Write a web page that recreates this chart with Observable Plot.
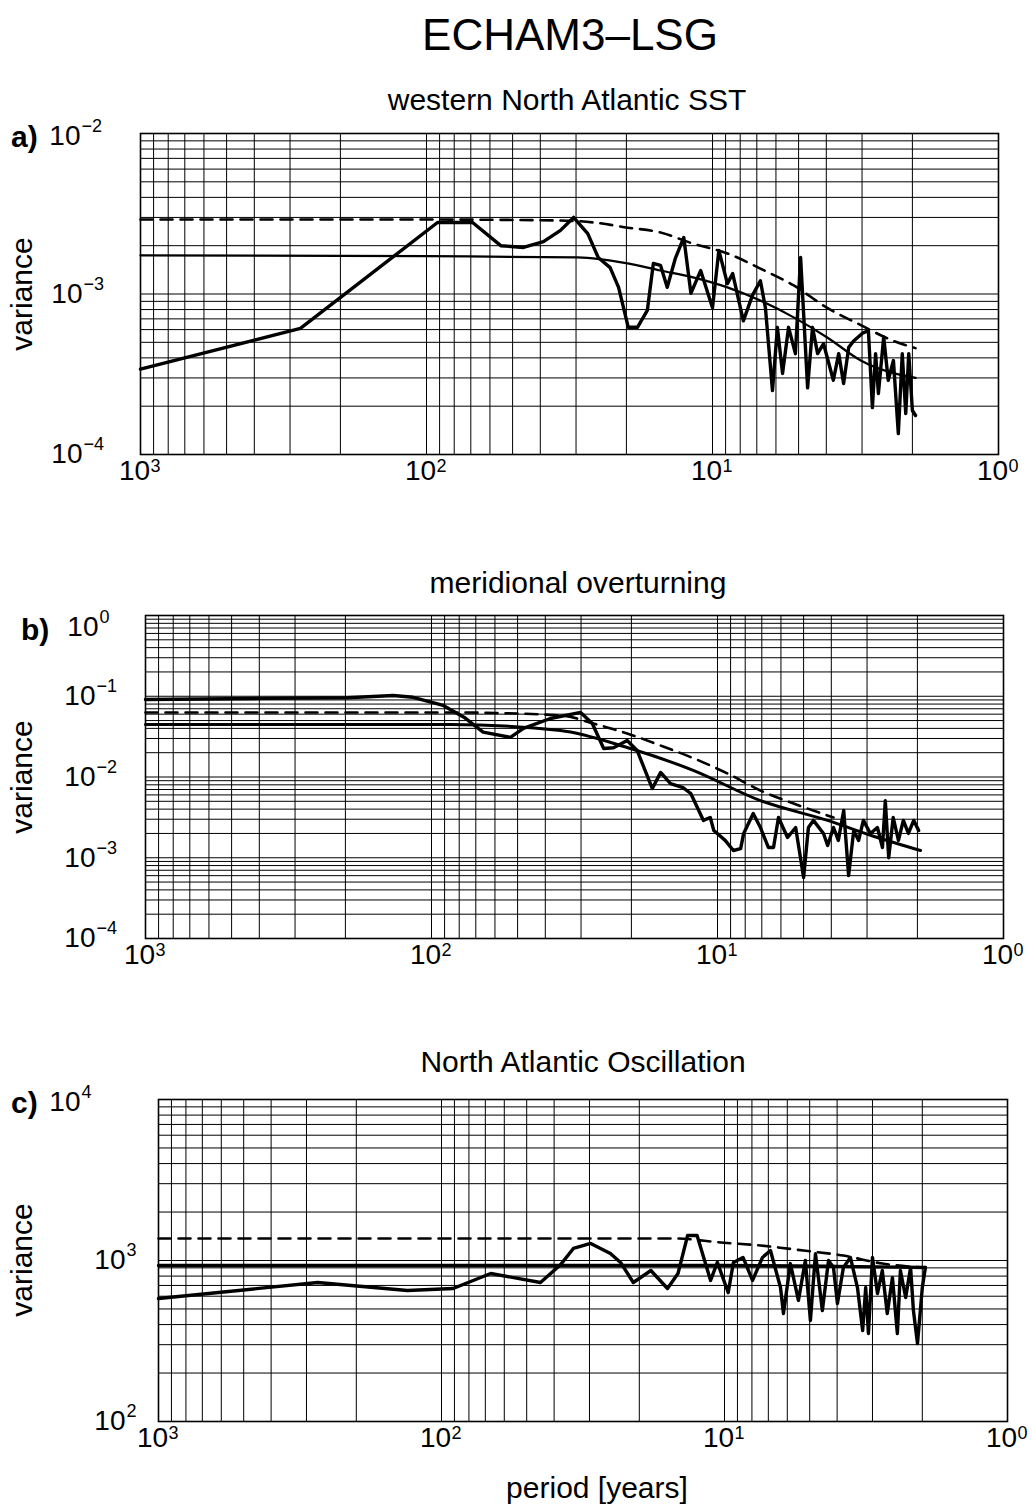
<!DOCTYPE html>
<html><head><meta charset="utf-8">
<script src="https://cdn.jsdelivr.net/npm/d3@7"></script>
<script src="https://cdn.jsdelivr.net/npm/@observablehq/plot@0.6"></script>
<style>
body{margin:0;background:#fff;}
#page{position:relative;width:1032px;height:1506px;background:#fff;font-family:"Liberation Sans",Arial,Helvetica,sans-serif;color:#000;overflow:hidden;}
.t{position:absolute;white-space:nowrap;line-height:1;}
#page svg{position:absolute;left:0;}
</style></head><body><div id="page"></div>
<script>
// ---------- data ----------
const xMajor = [1000, 100, 10, 1];

// a) western North Atlantic SST
const sstPeriod   = [1000, 276, 91.5, 69, 55, 45.8, 39, 34, 30.6, 27.3, 25.1, 22.8, 21.3, 19.7, 18.3, 16.9, 16.1, 15.2, 14.4, 13.5, 12.6, 11.9, 11.0, 10.0, 9.5, 8.87, 8.5, 7.8, 7.25, 6.8, 6.53, 6.17, 5.93, 5.69, 5.42, 5.13, 4.92, 4.65, 4.47, 4.29, 4.09, 3.78, 3.62, 3.48, 3.34, 3.21, 2.99, 2.85, 2.76, 2.69, 2.63, 2.52, 2.43, 2.33, 2.24, 2.17, 2.11, 2.06, 2.0, 1.95];
const sstSpectrum = [3.4e-4, 6.1e-4, 2.79e-3, 2.79e-3, 2.0e-3, 1.95e-3, 2.12e-3, 2.49e-3, 3.0e-3, 2.38e-3, 1.69e-3, 1.46e-3, 1.10e-3, 6.2e-4, 6.2e-4, 7.9e-4, 1.55e-3, 1.51e-3, 1.10e-3, 1.66e-3, 2.25e-3, 1.01e-3, 1.40e-3, 8.2e-4, 1.87e-3, 1.16e-3, 1.34e-3, 6.8e-4, 9.8e-4, 1.21e-3, 8.2e-4, 2.5e-4, 6.2e-4, 3.2e-4, 6.2e-4, 4.25e-4, 1.69e-3, 2.6e-4, 6.2e-4, 4.25e-4, 4.9e-4, 2.9e-4, 4.25e-4, 2.77e-4, 4.65e-4, 5.1e-4, 5.7e-4, 5.9e-4, 1.96e-4, 4.25e-4, 2.4e-4, 5.4e-4, 2.9e-4, 3.85e-4, 1.35e-4, 4.25e-4, 1.8e-4, 4.25e-4, 1.88e-4, 1.75e-4];
const sstFitPeriod = [1000, 100, 29.6, 19.8, 15.2, 11.7, 8.87, 6.8, 5.2, 3.97, 3.03, 1.95];
const sstFit       = [1.74e-3, 1.72e-3, 1.69e-3, 1.55e-3, 1.40e-3, 1.27e-3, 1.10e-3, 9.1e-4, 7.15e-4, 5.36e-4, 3.85e-4, 3.0e-4];
const sstBoundPeriod = [1000, 100, 34, 26, 19.8, 15.2, 11.7, 8.87, 6.8, 5.2, 3.97, 3.03, 2.33, 1.95];
const sstBound       = [2.91e-3, 2.91e-3, 2.87e-3, 2.79e-3, 2.59e-3, 2.42e-3, 2.06e-3, 1.79e-3, 1.44e-3, 1.13e-3, 8.2e-4, 6.4e-4, 5.1e-4, 4.6e-4];

// b) meridional overturning
const mocPeriod   = [1000, 386, 197, 136, 116, 91, 77, 66, 53, 47.7, 38.4, 30.1, 27.4, 25, 23.1, 20.7, 19.1, 16.9, 15.8, 14.6, 13.2, 12.4, 11.2, 10.6, 10.3, 9.4, 8.8, 8.3, 8.1, 7.5, 7.08, 6.64, 6.37, 6.12, 5.69, 5.33, 5.0, 4.81, 4.62, 4.26, 4.12, 3.93, 3.78, 3.62, 3.48, 3.34, 3.21, 3.09, 2.92, 2.76, 2.65, 2.59, 2.52, 2.43, 2.33, 2.24, 2.15, 2.06, 1.98];
const mocSpectrum = [0.091, 0.094, 0.096, 0.102, 0.097, 0.077, 0.055, 0.036, 0.031, 0.040, 0.053, 0.063, 0.046, 0.0225, 0.023, 0.0283, 0.0213, 0.0072, 0.0114, 0.0083, 0.0074, 0.00625, 0.0029, 0.00315, 0.00217, 0.00164, 0.00123, 0.0013, 0.002, 0.00353, 0.00237, 0.00134, 0.00134, 0.00315, 0.00178, 0.00237, 0.00057, 0.00237, 0.0029, 0.002, 0.00142, 0.00237, 0.00164, 0.00385, 0.0006, 0.00217, 0.00164, 0.0029, 0.002, 0.00237, 0.00134, 0.0051, 0.001, 0.00315, 0.00164, 0.0029, 0.002, 0.0029, 0.00217];
const mocFitPeriod = [1000, 86, 35.4, 20.7, 12.1, 7.08, 4.12, 2.76, 1.95];
const mocFit       = [0.0447, 0.0447, 0.0377, 0.0232, 0.012, 0.0051, 0.0029, 0.00178, 0.00123];
const mocBoundPeriod = [1000, 86, 35.4, 27.2, 20.7, 15.8, 12.1, 9.2, 7.08, 5.42, 3.93];
const mocBound       = [0.063, 0.063, 0.058, 0.046, 0.0346, 0.0245, 0.017, 0.011, 0.0068, 0.0047, 0.00315];

// c) North Atlantic Oscillation
const naoPeriod   = [1000, 274, 132, 91, 67, 44.7, 38, 34.2, 29.7, 25.3, 23.3, 21, 18.2, 15.9, 14.6, 13.5, 12.5, 11.2, 10.6, 9.7, 9.3, 8.6, 7.96, 7.34, 6.88, 6.34, 6.19, 5.85, 5.48, 5.18, 4.97, 4.77, 4.51, 4.29, 4.12, 3.99, 3.80, 3.59, 3.39, 3.25, 3.17, 3.10, 3.0, 2.88, 2.77, 2.66, 2.55, 2.45, 2.39, 2.29, 2.20, 2.15, 2.08, 2.0, 1.95];
const naoSpectrum = [581, 730, 651, 670, 830, 730, 940, 1188, 1276, 1104, 973, 730, 867, 670, 830, 1429, 1429, 752, 973, 632, 973, 1045, 752, 1045, 1153, 679, 469, 957, 565, 1000, 424, 1104, 489, 1000, 906, 540, 906, 1045, 679, 367, 679, 352, 1045, 624, 867, 469, 783, 352, 867, 589, 906, 489, 305, 679, 906];
const naoFitPeriod = [1000, 10, 4, 1.95];
const naoFit       = [931, 931, 920, 905];
const naoBoundPeriod = [1000, 15.1, 10.3, 7.46, 5.26, 3.80, 2.77, 1.98];
const naoBound       = [1371, 1371, 1294, 1239, 1153, 1073, 957, 905];

// ---------- drawing ----------
const FONT = "Liberation Sans, Arial, Helvetica, sans-serif";
const page = document.getElementById("page");

function text(str, x, yc, fs, extra = {}) {
  const d = document.createElement("div");
  d.className = "t";
  d.textContent = str;
  d.style.fontSize = fs + "px";
  d.style.top = (yc - 0.49 * fs) + "px";
  d.style.left = x + "px";
  if (extra.center) d.style.transform = "translateX(-50%)";
  if (extra.bold) d.style.fontWeight = "bold";
  page.appendChild(d);
  return d;
}
function vtext(str, xc, yc, fs) {
  const d = document.createElement("div");
  d.className = "t";
  d.textContent = str;
  d.style.fontSize = fs + "px";
  d.style.left = xc + "px";
  d.style.top = yc + "px";
  d.style.transform = "translate(-50%,-50%) rotate(-90deg)";
  page.appendChild(d);
}

function gridValues(lo, hi) {
  const out = [];
  for (let e = lo; e < hi; e++) for (let m = 1; m <= 9; m++) out.push(m * Math.pow(10, e));
  out.push(Math.pow(10, hi));
  return out;
}
const rows = (P, V) => P.map((p, i) => ({p, v: V[i]}));
const expText = v => { const e = Math.round(Math.log10(v)); return e < 0 ? "\u2212" + (-e) : String(e); };

function yLabelMarks(vals, dx, dy) {
  return [
    Plot.text(vals, {y: d => d, text: () => "10", frameAnchor: "left", dx: dx, dy: dy, textAnchor: "end", fontSize: 28, fontFamily: FONT, fill: "#000"}),
    Plot.text(vals, {y: d => d, text: d => expText(d), frameAnchor: "left", dx: dx + 1, dy: dy - 10, textAnchor: "start", fontSize: 18, fontFamily: FONT, fill: "#000"})
  ];
}

function panel(o) {
  const frameH = o.frameBottom - o.frameTop;
  const mt = 15, mb = 45;
  const yMajor = [];
  for (let e = o.yExp[0]; e <= o.yExp[1]; e++) yMajor.push(Math.pow(10, e));
  const topLabel = yMajor.slice(-1), restLabels = yMajor.slice(0, -1);
  const svg = Plot.plot({
    width: 1032,
    height: mt + frameH + mb,
    marginTop: mt, marginBottom: mb,
    marginLeft: o.left, marginRight: 1032 - o.right,
    style: {fontFamily: FONT, background: "transparent", color: "#000", overflow: "visible"},
    x: {type: "log", domain: [1000, 1], axis: null},
    y: {type: "log", domain: [Math.pow(10, o.yExp[0]), Math.pow(10, o.yExp[1])], axis: null},
    marks: [
      Plot.ruleX(gridValues(0, 3), {x: d => d, stroke: "#000", strokeWidth: 1}),
      Plot.ruleY(gridValues(o.yExp[0], o.yExp[1]), {y: d => d, stroke: "#000", strokeWidth: 1}),
      Plot.line(o.bound, {x: "p", y: "v", stroke: "#000", strokeWidth: 2.6, strokeDasharray: "12,8", curve: "monotone-x"}),
      Plot.line(o.fit, {x: "p", y: "v", stroke: "#000", strokeWidth: o.fitWidth, curve: "monotone-x"}),
      Plot.line(o.spec, {x: "p", y: "v", stroke: "#000", strokeWidth: 3.4, strokeLinejoin: "round"}),
      Plot.frame({stroke: "#000", strokeWidth: 1.6}),
      Plot.text(xMajor, {x: d => d, text: () => "10", frameAnchor: "bottom", dy: 25, dx: -6, fontSize: 28, fontFamily: FONT, fill: "#000"}),
      Plot.text(xMajor, {x: d => d, text: d => expText(d), frameAnchor: "bottom", dy: 17, dx: 10, fontSize: 18, fontFamily: FONT, fill: "#000", textAnchor: "start"}),
      ...yLabelMarks(restLabels, o.labelDx, 0),
      ...yLabelMarks(topLabel, o.topDx, o.topDy)
    ]
  });
  svg.style.top = (o.frameTop - mt) + "px";
  page.appendChild(svg);
}

panel({frameTop: 133, frameBottom: 454, left: 140, right: 998, yExp: [-4, -2], labelDx: -58, topDx: -60, topDy: 3, fitWidth: 2.2,
  spec: rows(sstPeriod, sstSpectrum), fit: rows(sstFitPeriod, sstFit), bound: rows(sstBoundPeriod, sstBound)});
panel({frameTop: 615, frameBottom: 938, left: 145, right: 1003, yExp: [-4, 0], labelDx: -50, topDx: -47, topDy: 12, fitWidth: 3,
  spec: rows(mocPeriod, mocSpectrum), fit: rows(mocFitPeriod, mocFit), bound: rows(mocBoundPeriod, mocBound)});
panel({frameTop: 1099, frameBottom: 1421, left: 158, right: 1007, yExp: [2, 4], labelDx: -33, topDx: -78, topDy: 3, fitWidth: 3.4,
  spec: rows(naoPeriod, naoSpectrum), fit: rows(naoFitPeriod, naoFit), bound: rows(naoBoundPeriod, naoBound)});

text("ECHAM3\u2013LSG", 570, 35, 44, {center: true});
text("western North Atlantic SST", 567, 100, 30, {center: true});
text("meridional overturning", 578, 583, 30, {center: true});
text("North Atlantic Oscillation", 583, 1062, 30, {center: true});
text("a)", 11, 137, 30, {bold: true});
text("b)", 21, 630, 30, {bold: true});
text("c)", 11, 1103, 30, {bold: true});
vtext("variance", 22, 294, 30);
vtext("variance", 22, 777, 30);
vtext("variance", 22, 1260, 30);
text("period [years]", 597, 1488, 30, {center: true});
</script></body></html>
